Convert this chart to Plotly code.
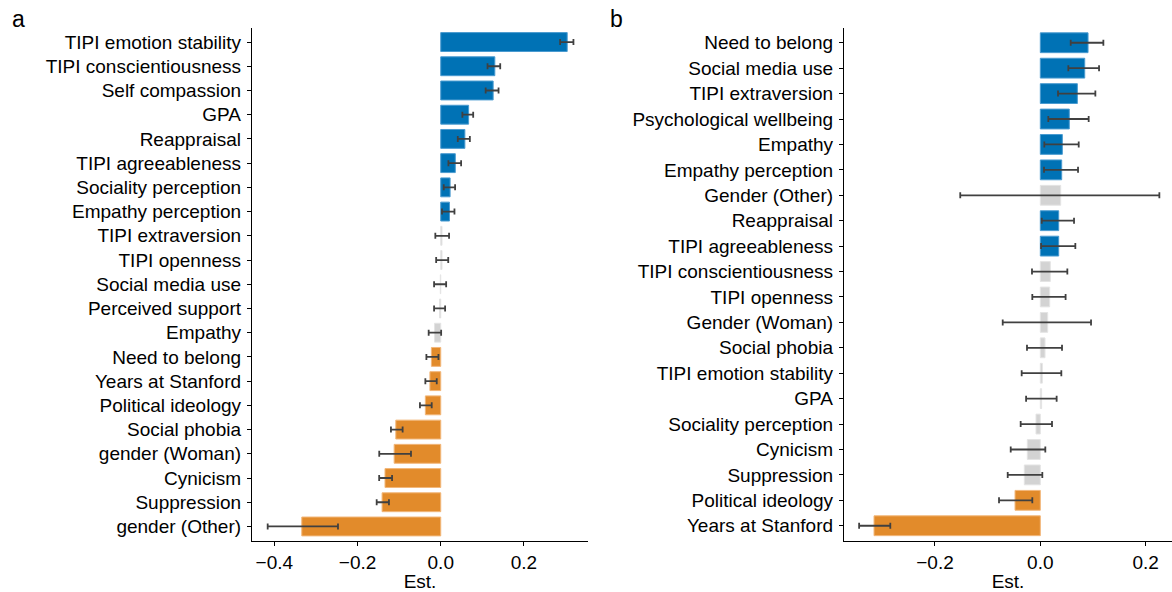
import plotly.graph_objects as go

# Panel a
cats_a = ["TIPI emotion stability", "TIPI conscientiousness", "Self compassion", "GPA",
          "Reappraisal", "TIPI agreeableness", "Sociality perception", "Empathy perception",
          "TIPI extraversion", "TIPI openness", "Social media use", "Perceived support",
          "Empathy", "Need to belong", "Years at Stanford", "Political ideology",
          "Social phobia", "gender (Woman)", "Cynicism", "Suppression", "gender (Other)"]
est_a = [0.304, 0.130, 0.126, 0.067, 0.058, 0.035, 0.0225, 0.021,
         0.003, 0.003, -0.001, -0.003, -0.015, -0.0225, -0.026, -0.037,
         -0.108, -0.112, -0.134, -0.141, -0.334]
lo_a = [0.287, 0.1125, 0.108, 0.052, 0.041, 0.0185, 0.0072, 0.003,
        -0.013, -0.011, -0.016, -0.016, -0.029, -0.0345, -0.037, -0.050,
        -0.1197, -0.1478, -0.148, -0.154, -0.416]
hi_a = [0.319, 0.143, 0.139, 0.078, 0.070, 0.049, 0.0345, 0.033,
        0.020, 0.018, 0.013, 0.0105, 0.001, -0.0055, -0.0096, -0.0217,
        -0.0916, -0.0715, -0.117, -0.1245, -0.247]

# Panel b
cats_b = ["Need to belong", "Social media use", "TIPI extraversion", "Psychological wellbeing",
          "Empathy", "Empathy perception", "Gender (Other)", "Reappraisal",
          "TIPI agreeableness", "TIPI conscientiousness", "TIPI openness", "Gender (Woman)",
          "Social phobia", "TIPI emotion stability", "GPA", "Sociality perception",
          "Cynicism", "Suppression", "Political ideology", "Years at Stanford"]
est_b = [0.0906, 0.0843, 0.0703, 0.055, 0.0418, 0.0406, 0.0387, 0.0349,
         0.0349, 0.019, 0.0178, 0.014, 0.0089, 0.0038, 0.0025, -0.0082,
         -0.0247, -0.0304, -0.048, -0.3157]
lo_b = [0.0577, 0.0532, 0.0336, 0.0152, 0.0076, 0.007, -0.152, 0.0027,
        0.0015, -0.0158, -0.0152, -0.0714, -0.0253, -0.0354, -0.027, -0.0373,
        -0.0562, -0.0619, -0.0784, -0.344]
hi_b = [0.1197, 0.1115, 0.1045, 0.0918, 0.0729, 0.0716, 0.226, 0.064,
        0.0665, 0.0513, 0.048, 0.0963, 0.0412, 0.0399, 0.031, 0.0222,
        0.0095, 0.0038, -0.0152, -0.2848]

x_ticks = [-0.4, -0.2, 0.0, 0.2]
x_tick_labels = ["\u22120.4", "\u22120.2", "0.0", "0.2"]

BLUE = "#0072B5"
ORANGE = "#E28B2B"
GRAY = "#D3D3D3"
EDGE = {BLUE: "#4A9BD0", ORANGE: "#F2B77A", GRAY: "#E4E4E4"}
ERR = "#404040"
FONT = "Liberation Sans, Arial, Helvetica, sans-serif"
FS = 19


def colors(lo, hi):
    out = []
    for l, h in zip(lo, hi):
        if l > 0:
            out.append(BLUE)
        elif h < 0:
            out.append(ORANGE)
        else:
            out.append(GRAY)
    return out


fig = go.Figure()

for cats, est, lo, hi, xa, ya in [(cats_a, est_a, lo_a, hi_a, "x", "y"),
                                   (cats_b, est_b, lo_b, hi_b, "x2", "y2")]:
    cols = colors(lo, hi)
    fig.add_trace(go.Bar(
        y=cats, x=est, orientation="h", width=0.78,
        marker=dict(color=cols, line=dict(color=[EDGE[c] for c in cols], width=1)),
        error_x=dict(type="data", symmetric=False,
                     array=[h - e for h, e in zip(hi, est)],
                     arrayminus=[e - l for e, l in zip(est, lo)],
                     color=ERR, thickness=1.8, width=3),
        xaxis=xa, yaxis=ya, showlegend=False, hoverinfo="skip",
    ))

H = 592
W = 1172
ytop = 1 - 27.5 / H
ybot = 1 - 541 / H

axis_common = dict(showline=True, linecolor="black", linewidth=1.3, ticks="outside",
                   ticklen=4, tickwidth=1.2, tickcolor="black", showgrid=False,
                   zeroline=False, tickfont=dict(family=FONT, size=FS, color="black"))

fig.update_layout(
    width=W, height=H, margin=dict(l=0, r=0, t=0, b=0),
    paper_bgcolor="white", plot_bgcolor="white",
    font=dict(family=FONT, size=FS, color="black"),
    bargap=0.2,
    xaxis=dict(domain=[252 / W, 588 / W], range=[-0.4537, 0.354],
               tickvals=x_ticks, ticktext=x_tick_labels,
               title=dict(text="Est.", font=dict(family=FONT, size=FS), standoff=2),
               anchor="y", **axis_common),
    yaxis=dict(domain=[ybot, ytop], type="category", categoryorder="array",
               categoryarray=cats_a, range=[len(cats_a) - 0.4, -0.6],
               anchor="x", ticklabelstandoff=2, **axis_common),
    xaxis2=dict(domain=[844 / W, 1.0], range=[-0.3727, 0.25],
                tickvals=x_ticks, ticktext=x_tick_labels,
                title=dict(text="Est.", font=dict(family=FONT, size=FS), standoff=2),
                anchor="y2", **axis_common),
    yaxis2=dict(domain=[ybot, ytop], type="category", categoryorder="array",
                categoryarray=cats_b, range=[len(cats_b) - 0.4, -0.6],
                anchor="x2", ticklabelstandoff=2, **axis_common),
    annotations=[
        dict(text="a", x=10 / W, y=1 - 19 / H, xref="paper", yref="paper",
             xanchor="left", yanchor="middle", showarrow=False,
             font=dict(family=FONT, size=23, color="black")),
        dict(text="b", x=608 / W, y=1 - 19 / H, xref="paper", yref="paper",
             xanchor="left", yanchor="middle", showarrow=False,
             font=dict(family=FONT, size=23, color="black")),
    ],
)

fig.write_html("out.html")
